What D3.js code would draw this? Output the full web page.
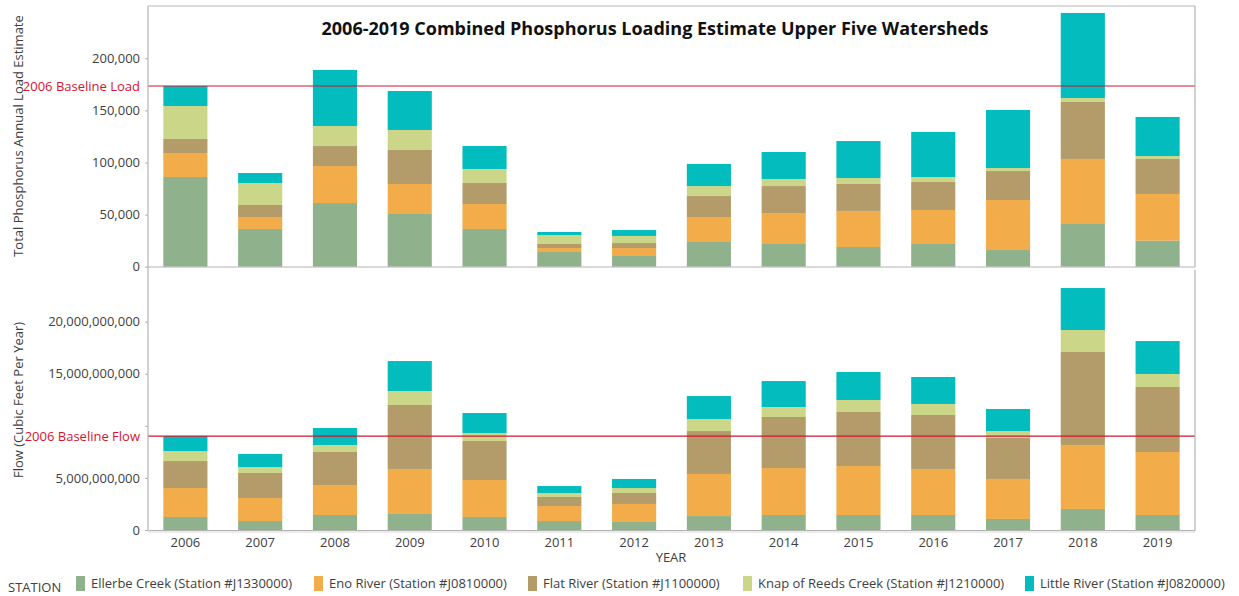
<!DOCTYPE html>
<html>
<head>
<meta charset="utf-8">
<title>2006-2019 Combined Phosphorus Loading Estimate Upper Five Watersheds</title>
<script src="https://d3js.org/d3.v7.min.js"></script>
<style>
  body { margin: 0; padding: 0; background: #fff; }
  svg text { font-family: "Open Sans", "Noto Sans", sans-serif; fill: #404040; }
  .axis path, .axis line { stroke: #b3b3b3; }
  .axis text { font-size: 13px; fill: #404040; }
</style>
</head>
<body>
<div id="chart"></div>
<script>
// years on the x axis
var years = ["2006","2007","2008","2009","2010","2011","2012","2013","2014","2015","2016","2017","2018","2019"];

var stations = [
  "Ellerbe Creek (Station #J1330000)",
  "Eno River (Station #J0810000)",
  "Flat River (Station #J1100000)",
  "Knap of Reeds Creek (Station #J1210000)",
  "Little River (Station #J0820000)"
];
var colors = ["#8fb28d", "#f2ad4a", "#b39b6a", "#cbd689", "#03bcbd"];

// total phosphorus load, per station
var loadEllerbe = [86100, 36200, 61100, 50600, 36200, 14100, 10300, 23700, 21800, 18900, 21800, 16000, 41000, 25000];
var loadEno     = [23000, 11500, 35500, 28800, 24000, 3800, 7600, 24000, 29700, 34600, 32600, 48000, 62400, 44800];
var loadFlat    = [13500, 11500, 19200, 32600, 20100, 3900, 4800, 20100, 25900, 25900, 26900, 27800, 54700, 33600];
var loadKnap    = [31600, 21100, 19200, 19200, 13500, 8600, 6800, 9600, 6800, 5700, 4800, 2900, 3800, 2800];
var loadLittle  = [19200, 9600, 53800, 37400, 22000, 2900, 5700, 21200, 25900, 35500, 43200, 55700, 81600, 37500];

// flow (cubic feet per year), per station
var flowEllerbe = [1.25e9, 0.86e9, 1.44e9, 1.54e9, 1.25e9, 0.86e9, 0.77e9, 1.34e9, 1.44e9, 1.44e9, 1.44e9, 1.06e9, 2.02e9, 1.44e9];
var flowEno     = [2.78e9, 2.21e9, 2.88e9, 4.32e9, 3.55e9, 1.44e9, 1.73e9, 4.04e9, 4.51e9, 4.70e9, 4.42e9, 3.84e9, 6.14e9, 6.05e9];
var flowFlat    = [2.59e9, 2.40e9, 3.17e9, 6.14e9, 3.74e9, 0.87e9, 1.05e9, 4.12e9, 4.90e9, 5.19e9, 5.18e9, 3.93e9, 8.93e9, 6.24e9];
var flowKnap    = [0.96e9, 0.58e9, 0.67e9, 1.34e9, 0.77e9, 0.38e9, 0.48e9, 1.16e9, 0.96e9, 1.15e9, 1.06e9, 0.67e9, 2.11e9, 1.25e9];
var flowLittle  = [1.44e9, 1.25e9, 1.63e9, 2.88e9, 1.92e9, 0.67e9, 0.87e9, 2.20e9, 2.49e9, 2.69e9, 2.59e9, 2.12e9, 4.03e9, 3.16e9];

var loadTicks = [0, 50000, 100000, 150000, 200000];
var flowTicks = [0, 5e9, 10e9, 15e9, 20e9];
var flowTickLabels = ["0", "5,000,000,000", "", "15,000,000,000", "20,000,000,000"];

var width = 1239, height = 596;
var left = 148, right = 1195;

var svg = d3.select("#chart").append("svg")
  .attr("width", width)
  .attr("height", height);

function buildRows(series) {
  return years.map(function(yr, i) {
    var row = {year: yr};
    stations.forEach(function(s, k) { row[s] = series[k][i]; });
    return row;
  });
}

var x = d3.scaleBand()
  .domain(years)
  .range([left, right])
  .paddingInner(0.41)
  .paddingOuter(0.205);

var yTop = d3.scaleLinear().domain([0, 250000]).range([266.7, 6.2]);
var yBot = d3.scaleLinear().domain([0, 25e9]).range([530, 269.6]);

var color = d3.scaleOrdinal().domain(stations).range(colors);
var stack = d3.stack().keys(stations);

function drawPanel(series, y, baselineText) {
  var rows = buildRows(series);
  var layers = stack(rows);

  svg.append("g")
    .selectAll("g")
    .data(layers)
    .enter().append("g")
      .attr("fill", function(d) { return color(d.key); })
    .selectAll("rect")
    .data(function(d) { return d; })
    .enter().append("rect")
      .attr("x", function(d) { return x(d.data.year); })
      .attr("width", x.bandwidth())
      .attr("y", function(d) { return y(d[1]); })
      .attr("height", function(d) { return y(d[0]) - y(d[1]); });

  // baseline = 2006 total
  var base = d3.sum(series, function(s) { return s[0]; });
  svg.append("line")
    .attr("x1", left).attr("x2", right)
    .attr("y1", y(base)).attr("y2", y(base))
    .attr("stroke", "#d31530")
    .attr("stroke-width", 1.2);
  svg.append("text")
    .attr("x", 140)
    .attr("y", y(base))
    .attr("dy", "0.35em")
    .attr("text-anchor", "end")
    .style("font-size", "13px")
    .style("fill", "#d31530")
    .text(baselineText);
}

drawPanel([loadEllerbe, loadEno, loadFlat, loadKnap, loadLittle], yTop, "2006 Baseline Load");
drawPanel([flowEllerbe, flowEno, flowFlat, flowKnap, flowLittle], yBot, "2006 Baseline Flow");

// frame of the top panel
svg.append("line").attr("x1", left).attr("x2", right).attr("y1", 6).attr("y2", 6)
  .attr("stroke", "#cfcfcf").attr("stroke-width", 1.5);
svg.append("line").attr("x1", right).attr("x2", right).attr("y1", 6).attr("y2", 267)
  .attr("stroke", "#b3b3b3").attr("stroke-width", 1.2);
svg.append("line").attr("x1", right).attr("x2", right).attr("y1", 270).attr("y2", 530)
  .attr("stroke", "#b3b3b3").attr("stroke-width", 1.2);
svg.append("line").attr("x1", left).attr("x2", left).attr("y1", 6).attr("y2", 530)
  .attr("stroke", "#b3b3b3").attr("stroke-width", 1.2);

// axes
svg.append("g")
  .attr("class", "axis")
  .attr("transform", "translate(" + left + ",0)")
  .call(d3.axisLeft(yTop).tickValues(loadTicks).tickSize(3).tickPadding(5).tickFormat(d3.format(",")))
  .call(function(g) { g.select(".domain").remove(); });

svg.append("g")
  .attr("class", "axis")
  .attr("transform", "translate(" + left + ",0)")
  .call(d3.axisLeft(yBot).tickValues(flowTicks).tickSize(3).tickPadding(5)
    .tickFormat(function(d, i) { return flowTickLabels[i]; }))
  .call(function(g) { g.select(".domain").remove(); });

svg.append("line").attr("x1", left).attr("x2", right).attr("y1", 267).attr("y2", 267)
  .attr("stroke", "#b3b3b3").attr("stroke-width", 1.2);

svg.append("g")
  .attr("class", "axis")
  .attr("transform", "translate(0,530)")
  .call(d3.axisBottom(x).tickSize(0).tickPadding(8))
  .call(function(g) { g.select(".domain").attr("stroke-width", 1.2); });
svg.append("line").attr("x1", left).attr("x2", right).attr("y1", 532).attr("y2", 532)
  .attr("stroke", "#e4e4e4").attr("stroke-width", 1.5);

// titles
svg.append("text")
  .attr("x", 655)
  .attr("y", 35)
  .attr("text-anchor", "middle")
  .style("font-size", "18px")
  .style("font-weight", "bold")
  .style("fill", "#111")
  .text("2006-2019 Combined Phosphorus Loading Estimate Upper Five Watersheds");

svg.append("text")
  .attr("transform", "translate(23,136) rotate(-90)")
  .attr("text-anchor", "middle")
  .style("font-size", "13px")
  .text("Total Phosphorus Annual Load Estimate");

svg.append("text")
  .attr("transform", "translate(23,400) rotate(-90)")
  .attr("text-anchor", "middle")
  .style("font-size", "13px")
  .text("Flow (Cubic Feet Per Year)");

svg.append("text")
  .attr("x", 671)
  .attr("y", 562)
  .attr("text-anchor", "middle")
  .style("font-size", "13px")
  .text("YEAR");

// legend
var legendX = [76, 314, 528, 743, 1025];
svg.append("text")
  .attr("x", 8)
  .attr("y", 592)
  .style("font-size", "13px")
  .text("STATION");

var legend = svg.append("g")
  .selectAll("g")
  .data(stations)
  .enter().append("g")
    .attr("transform", function(d, i) { return "translate(" + legendX[i] + ",576)"; });

legend.append("rect")
  .attr("width", 9)
  .attr("height", 15)
  .attr("fill", function(d) { return color(d); });

legend.append("text")
  .attr("x", 15)
  .attr("y", 12)
  .style("font-size", "13px")
  .text(function(d) { return d; });
</script>
</body>
</html>
